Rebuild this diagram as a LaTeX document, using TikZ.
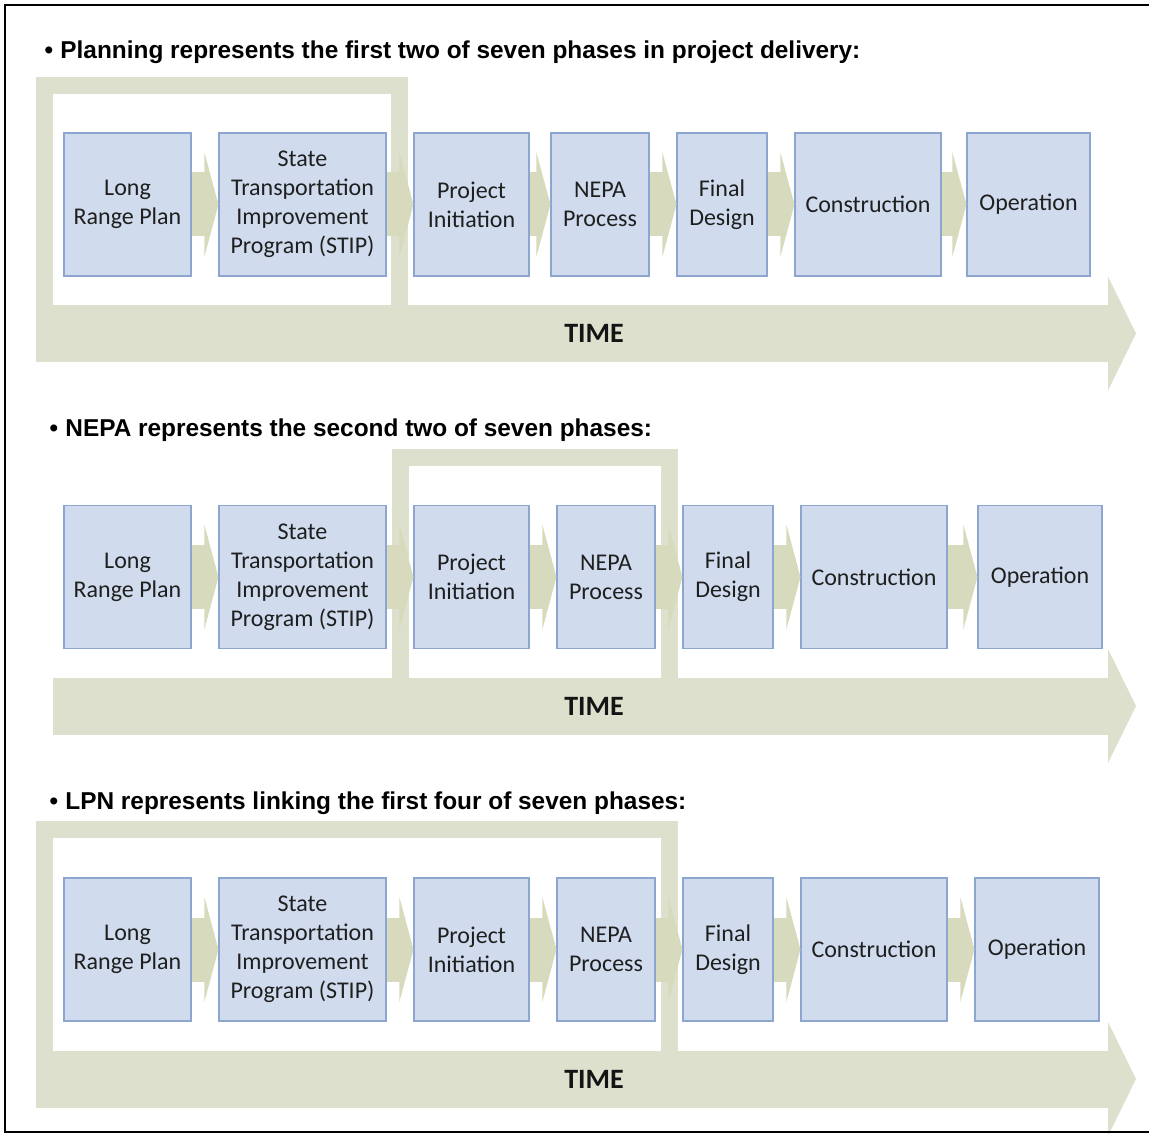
\documentclass[tikz,border=0pt]{standalone}
\usepackage{fontspec}
\setmainfont{Carlito}
\newfontfamily\headfont{Liberation Sans}
\usetikzlibrary{arrows.meta}

\definecolor{boxfill}{RGB}{208,220,238}
\definecolor{boxline}{RGB}{140,166,207}
\definecolor{band}{RGB}{221,224,204}
\definecolor{flow}{RGB}{215,218,188}

\begin{document}
\begin{tikzpicture}[x=1pt, y=-1pt,
	ph/.style={draw=boxline, fill=boxfill, line width=1.1pt, minimum height=143pt, inner sep=0pt, align=center, text=black!88, font=\fontsize{24}{29}\selectfont},
	flw/.style={draw=flow, line width=64pt, -{Triangle[length=14pt, width=104pt]}},
	tbar/.style={draw=band, line width=57pt, -{Triangle[length=28pt, width=113pt]}},
	frm/.style={draw=band, line width=17pt},
	hd/.style={anchor=west, font=\headfont\bfseries\fontsize{24.4}{28}\selectfont},
	tm/.style={text=black!92, font=\bfseries\fontsize{28}{32}\selectfont}
	]
	\useasboundingbox (0,0) rectangle (1149,1134);
	% Planning
	\begin{scope}[yshift=0pt]
		\node[hd] (h1) at (41,52) {•\hspace{0.3em}Planning represents the first two of seven phases in project delivery:};
		\draw[frm] (44.5,320) -- (44.5,85.5) -- (399.5,85.5) -- (399.5,320);
		\coordinate (s1) at (36,333.5); \coordinate (e1) at (1136,333.5);
		\draw[tbar] (s1) -- (e1);
		\node[tm] (tm1) at (594,333.5) {TIME};
		\node[ph, minimum width=127pt] (a1) at (127.5,204.5) {Long\\Range Plan};
		\node[ph, minimum width=167pt] (a2) at (302.5,204.5) {State\\Transportation\\Improvement\\Program (STIP)};
		\node[ph, minimum width=115pt] (a3) at (471.5,204.5) {Project\\Initiation};
		\node[ph, minimum width=98pt] (a4) at (600,204.5) {NEPA\\Process};
		\node[ph, minimum width=90pt] (a5) at (722,204.5) {Final\\Design};
		\node[ph, minimum width=146pt] (a6) at (868,204.5) {Construction};
		\node[ph, minimum width=123pt] (a7) at (1028.5,204.5) {Operation};
		\draw[flw] (a1) -- (a2); \draw[flw] (a2) -- (a3); \draw[flw] (a3) -- (a4);
		\draw[flw] (a4) -- (a5); \draw[flw] (a5) -- (a6); \draw[flw] (a6) -- (a7);
	\end{scope}
	% NEPA
	\begin{scope}[yshift=-372.5pt]
		\node[hd] (h2) at (46,57.5) {•\hspace{0.3em}NEPA represents the second two of seven phases:};
		\draw[frm] (400.5,320) -- (400.5,84.5) -- (669.5,84.5) -- (669.5,320);
		\coordinate (s2) at (53,333.5); \coordinate (e2) at (1136,333.5);
		\draw[tbar] (s2) -- (e2);
		\node[tm] (tm2) at (594,333.5) {TIME};
		\node[ph, minimum width=127pt] (b1) at (127.5,204.5) {Long\\Range Plan};
		\node[ph, minimum width=167pt] (b2) at (302.5,204.5) {State\\Transportation\\Improvement\\Program (STIP)};
		\node[ph, minimum width=115pt] (b3) at (471.5,204.5) {Project\\Initiation};
		\node[ph, minimum width=98pt] (b4) at (606,204.5) {NEPA\\Process};
		\node[ph, minimum width=90pt] (b5) at (728,204.5) {Final\\Design};
		\node[ph, minimum width=146pt] (b6) at (874,204.5) {Construction};
		\node[ph, minimum width=124pt] (b7) at (1040,204.5) {Operation};
		\draw[flw] (b1) -- (b2); \draw[flw] (b2) -- (b3); \draw[flw] (b3) -- (b4);
		\draw[flw] (b4) -- (b5); \draw[flw] (b5) -- (b6); \draw[flw] (b6) -- (b7);
	\end{scope}
	% LPN
	\begin{scope}[yshift=-745pt]
		\node[hd] (h3) at (46,58) {•\hspace{0.3em}LPN represents linking the first four of seven phases:};
		\draw[frm] (44.5,320) -- (44.5,84.5) -- (669.5,84.5) -- (669.5,320);
		\coordinate (s3) at (36,334); \coordinate (e3) at (1136,334);
		\draw[tbar] (s3) -- (e3);
		\node[tm] (tm3) at (594,334) {TIME};
		\node[ph, minimum width=127pt] (c1) at (127.5,204.5) {Long\\Range Plan};
		\node[ph, minimum width=167pt] (c2) at (302.5,204.5) {State\\Transportation\\Improvement\\Program (STIP)};
		\node[ph, minimum width=115pt] (c3) at (471.5,204.5) {Project\\Initiation};
		\node[ph, minimum width=98pt] (c4) at (606,204.5) {NEPA\\Process};
		\node[ph, minimum width=90pt] (c5) at (728,204.5) {Final\\Design};
		\node[ph, minimum width=146pt] (c6) at (874,204.5) {Construction};
		\node[ph, minimum width=124pt] (c7) at (1037,204.5) {Operation};
		\draw[flw] (c1) -- (c2); \draw[flw] (c2) -- (c3); \draw[flw] (c3) -- (c4);
		\draw[flw] (c4) -- (c5); \draw[flw] (c5) -- (c6); \draw[flw] (c6) -- (c7);
	\end{scope}
	% outer frame
	\draw[line width=2.5pt] (1149,5) -- (5,5) -- (5,1132) -- (1149,1132);
\end{tikzpicture}
\end{document}
